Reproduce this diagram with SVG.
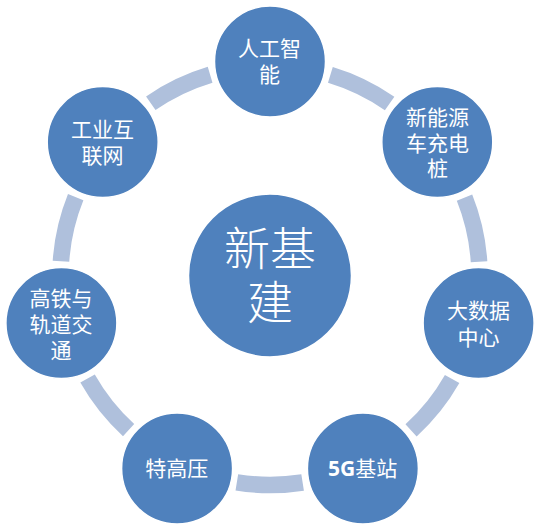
<svg xmlns="http://www.w3.org/2000/svg" width="543" height="532" viewBox="0 0 543 532">
<style>
.arc{fill:none;stroke:#afc0dc;stroke-width:16.6;stroke-linecap:butt}
.node{fill:#4f81bd;stroke:#ffffff;stroke-width:1.5}
.t{font-family:"Noto Sans CJK SC","Noto Sans",sans-serif;font-size:21px;fill:#ffffff;text-anchor:middle}
.big{font-size:46px;font-weight:300}
</style>
<rect width="543" height="532" fill="#ffffff"/>
<g id="connectors">
<path class="arc" d="M330.38,74.88 A209.5,209.5 0 0 1 389.62,103.52"/>
<path class="arc" d="M464.50,197.63 A209.5,209.5 0 0 1 479.05,261.80"/>
<path class="arc" d="M452.14,379.01 A209.5,209.5 0 0 1 411.06,430.38"/>
<path class="arc" d="M302.62,482.44 A209.5,209.5 0 0 1 236.84,482.36"/>
<path class="arc" d="M128.59,430.07 A209.5,209.5 0 0 1 87.57,378.51"/>
<path class="arc" d="M60.98,261.29 A209.5,209.5 0 0 1 75.69,197.17"/>
<path class="arc" d="M150.79,103.23 A209.5,209.5 0 0 1 210.12,74.74"/>
</g>
<g id="center">
<circle class="node" cx="270" cy="275.5" r="81.5"/>
<text class="t big" x="270" y="264.5">新基</text>
<text class="t big" x="270" y="319">建</text>
</g>
<g id="ai">
<circle class="node" cx="270" cy="61.5" r="55.5"/>
<text class="t" x="269.5" y="55.5">人工智</text>
<text class="t" x="269.5" y="82">能</text>
</g>
<g id="ev">
<circle class="node" cx="437.3" cy="142.1" r="55.5"/>
<text class="t" x="437.5" y="124.5">新能源</text>
<text class="t" x="437.5" y="150.5">车充电</text>
<text class="t" x="437.5" y="176">桩</text>
</g>
<g id="bigdata">
<circle class="node" cx="478.6" cy="323.1" r="55.5"/>
<text class="t" x="478.5" y="318">大数据</text>
<text class="t" x="478.5" y="344.5">中心</text>
</g>
<g id="fiveg">
<circle class="node" cx="362.9" cy="468.5" r="55.5"/>
<text class="t" x="362.7" y="476"><tspan font-family="'Open Sans','Liberation Sans',sans-serif" font-weight="bold">5G</tspan>基站</text>
</g>
<g id="uhv">
<circle class="node" cx="177.1" cy="468.5" r="55.5"/>
<text class="t" x="176.8" y="476">特高压</text>
</g>
<g id="rail">
<circle class="node" cx="61.4" cy="323.1" r="55.5"/>
<text class="t" x="61" y="305.5">高铁与</text>
<text class="t" x="61" y="332">轨道交</text>
<text class="t" x="61" y="357.5">通</text>
</g>
<g id="iiot">
<circle class="node" cx="102.7" cy="142.1" r="55.5"/>
<text class="t" x="102.5" y="137">工业互</text>
<text class="t" x="102.5" y="163">联网</text>
</g>
</svg>
